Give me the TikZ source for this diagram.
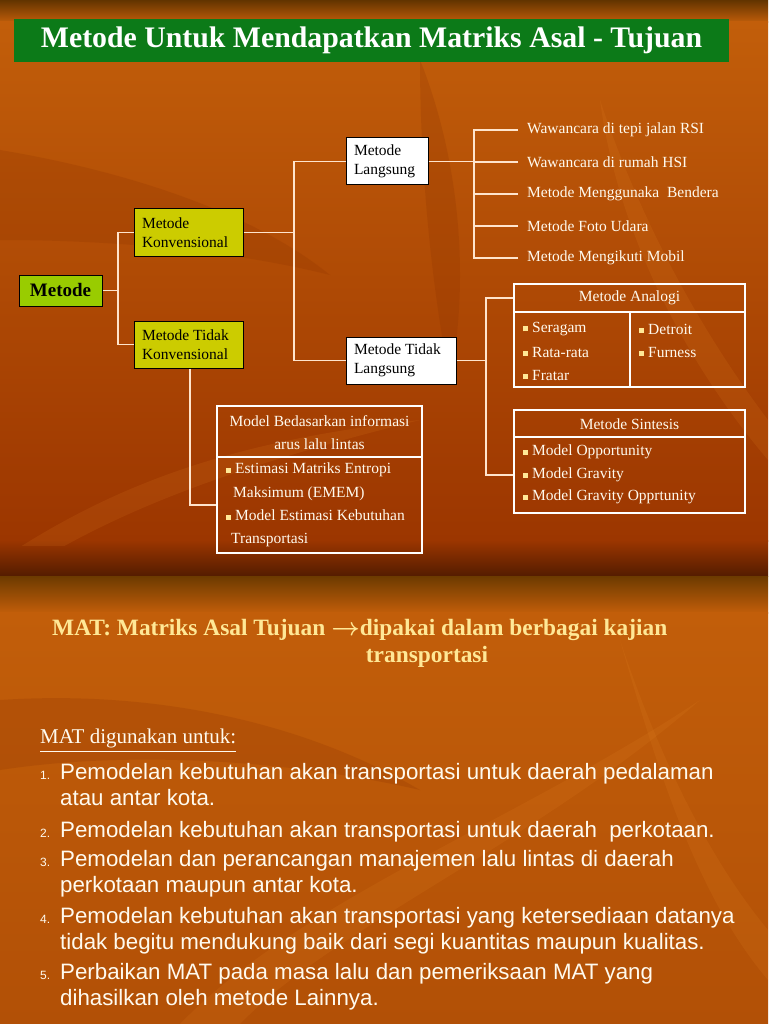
\documentclass[tikz,border=0pt]{standalone}
\usepackage{fontspec}
\usepackage{amsmath}
\setmainfont{Liberation Serif}
\setsansfont{Liberation Sans}
\usepackage{tikz}
\usetikzlibrary{positioning, calc}
\definecolor{slidetop}{RGB}{98,52,0}
\definecolor{slidemid}{RGB}{194,94,10}
\definecolor{slidelow}{RGB}{156,54,0}
\definecolor{slidedark}{RGB}{84,28,0}
\definecolor{slidenext}{RGB}{108,58,0}
\definecolor{slideend}{RGB}{178,80,6}
\definecolor{leaflight}{RGB}{235,140,40}
\definecolor{leafdark}{RGB}{140,50,0}
\definecolor{titlegreen}{RGB}{12,122,24}
\definecolor{rootgreen}{RGB}{153,204,0}
\definecolor{konvyellow}{RGB}{204,204,0}
\definecolor{linecream}{RGB}{255,228,204}
\definecolor{textcream}{RGB}{255,250,238}
\definecolor{headyellow}{RGB}{255,232,150}
\newcommand{\bul}{\textcolor{headyellow}{\rule[1pt]{5pt}{5pt}}\hspace{4pt}}

\begin{document}
\begin{tikzpicture}[x=1pt, y=-1pt, font=\fontsize{15.5}{19}\selectfont,
    link/.style={draw=linecream, line width=1.4pt},
    box/.style={draw=black, line width=1pt, inner sep=0pt, align=flush left, text=black},
    panel/.style={draw=white, line width=2.2pt, inner sep=0pt},
    panelrule/.style={draw=white, line width=1.6pt},
    leafitem/.style={anchor=west, inner xsep=9pt, inner ysep=0pt, text=textcream},
    paneltext/.style={inner sep=0pt, text=textcream, align=flush left},
    leafshade/.style={fill=leaflight, fill opacity=0.13},
    leafdeep/.style={fill=leafdark, fill opacity=0.22}]
    \useasboundingbox (0,0) rectangle (768,1024);

    % Background, two slides
    \fill[top color=slidetop, bottom color=slidemid] (0,0) rectangle (768,23);
    \fill[top color=slidemid, bottom color=slidelow] (0,22) rectangle (768,541);
    \fill[top color=slidelow, bottom color=slidedark] (0,540) rectangle (768,576);
    \fill[top color=slidenext, bottom color=slidemid] (0,576) rectangle (768,613);
    \fill[top color=slidemid, bottom color=slideend] (0,612) rectangle (768,1024);

    % Faint leaves
    \begin{scope}
      \clip (0,23) rectangle (768,545);
      \path[leafdeep] (0,150) .. controls (120,170) and (250,210) .. (330,275) .. controls (230,250) and (110,240) .. (0,240) -- cycle;
      \path[leafshade] (600,100) .. controls (620,250) and (700,380) .. (768,460) -- (768,420) .. controls (700,330) and (640,220) .. (600,100) -- cycle;
      \path[leafshade] (0,560) .. controls (120,480) and (240,440) .. (420,420) .. controls (260,460) and (140,500) .. (40,560) -- cycle;
      \path[leafdeep] (420,60) .. controls (460,160) and (470,280) .. (450,380) .. controls (430,280) and (420,160) .. (420,60) -- cycle;
    \end{scope}
    \begin{scope}
      \clip (0,612) rectangle (768,1024);
      \path[leafshade] (180,1024) .. controls (300,900) and (520,820) .. (700,700) .. controls (540,840) and (330,930) .. (240,1024) -- cycle;
      \path[leafdeep] (0,700) .. controls (150,690) and (300,720) .. (420,790) .. controls (290,760) and (130,750) .. (0,770) -- cycle;
      \path[leafshade] (620,640) .. controls (660,780) and (700,900) .. (768,980) -- (768,930) .. controls (710,860) and (660,760) .. (620,640) -- cycle;
    \end{scope}

    % Title bar
    \node[fill=titlegreen, minimum width=715pt, minimum height=43pt, text=white,
      font=\fontsize{29.8}{32}\selectfont\bfseries] (title) at (371.5,40.5)
      {Metode Untuk Mendapatkan Matriks Asal - Tujuan};

    % Tree boxes
    \node[box, fill=rootgreen, minimum width=83pt, minimum height=31pt, align=center,
      font=\fontsize{19}{22}\selectfont\bfseries] (metode) at (60.5,290.5) {Metode};
    \node[box, fill=konvyellow, text width=93pt, minimum height=47pt, inner xsep=8pt] (konv) at (188.5,232.5)
      {Metode\\Konvensional};
    \node[box, fill=konvyellow, text width=93pt, minimum height=47pt, inner xsep=8pt] (tkonv) at (188.5,344.5)
      {Metode Tidak\\Konvensional};
    \node[box, fill=white, text width=66pt, minimum height=47pt, inner xsep=8pt] (lang) at (387,161.5)
      {Metode\\Langsung};
    \node[box, fill=white, text width=94pt, minimum height=47pt, inner xsep=8pt] (tlang) at (401,360.5)
      {Metode Tidak\\Langsung};

    % Direct methods
    \node[leafitem] (rsi) at (518,130) {Wawancara di tepi jalan RSI};
    \node[leafitem] (hsi) at (518,162) {Wawancara di rumah HSI};
    \node[leafitem] (bendera) at (518,194) {Metode Menggunaka\ \ Bendera};
    \node[leafitem] (foto) at (518,226) {Metode Foto Udara};
    \node[leafitem] (mobil) at (518,258) {Metode Mengikuti Mobil};

    % Analogi panel
    \node[panel, minimum width=231pt, minimum height=103pt] (ana) at (629.5,335.5) {};
    \node[paneltext] (anahead) at (629.5,298) {Metode Analogi};
    \draw[panelrule] (ana.west |- 0,312) -- (ana.east |- 0,312);
    \draw[panelrule] (630,312) -- (ana.south -| 630,0);
    \node[paneltext, anchor=west] (seragam) at (523,329) {\bul Seragam};
    \node[paneltext, anchor=west] (rata) at (523,352) {\bul Rata-rata};
    \node[paneltext, anchor=west] (fratar) at (523,375) {\bul Fratar};
    \node[paneltext, anchor=west] (detroit) at (639,329) {\bul Detroit};
    \node[paneltext, anchor=west] (furness) at (639,352) {\bul Furness};

    % Sintesis panel
    \node[panel, minimum width=231pt, minimum height=103pt] (sin) at (629.5,461.5) {};
    \node[paneltext] (sinhead) at (629.5,424) {Metode Sintesis};
    \draw[panelrule] (sin.west |- 0,437) -- (sin.east |- 0,437);
    \node[paneltext, anchor=west] (opp) at (523,452) {\bul Model Opportunity};
    \node[paneltext, anchor=west] (grav) at (523,475) {\bul Model Gravity};
    \node[paneltext, anchor=west] (gravopp) at (523,497) {\bul Model Gravity Opprtunity};

    % Model panel
    \node[panel, minimum width=205pt, minimum height=147pt] (model) at (319.5,479.5) {};
    \node[paneltext, align=center, font=\fontsize{15.5}{23}\selectfont] (modelhead) at (319.5,432.5)
      {Model Bedasarkan informasi\\arus lalu lintas};
    \draw[panelrule] (model.west |- 0,457) -- (model.east |- 0,457);
    \node[paneltext, anchor=west, font=\fontsize{15.5}{24}\selectfont] (emem) at (226,482)
      {\bul Estimasi Matriks Entropi\\\hspace*{7pt}Maksimum (EMEM)};
    \node[paneltext, anchor=west, font=\fontsize{15.5}{23}\selectfont] (kebutuhan) at (226,528.5)
      {\bul Model Estimasi Kebutuhan\\\hspace*{5pt}Transportasi};

    % Connectors
    \coordinate (jm) at (118,290.5);
    \draw[link] (metode) -- (jm);
    \draw[link] (konv.west) -| (jm);
    \draw[link] (tkonv.west) -| (jm);
    \coordinate (jk) at (294,232.5);
    \draw[link] (konv) -- (jk);
    \draw[link] (lang.west) -| (jk);
    \draw[link] (tlang.west) -| (jk);
    \coordinate (jl) at (474,161.5);
    \draw[link] (lang) -- (jl);
    \draw[link] (rsi.west) -| (jl);
    \draw[link] (hsi.west) -| (jl);
    \draw[link] (bendera.west) -| (jl);
    \draw[link] (foto.west) -| (jl);
    \draw[link] (mobil.west) -| (jl);
    \coordinate (jt) at (486,360.5);
    \draw[link] (tlang) -- (jt);
    \draw[link] (ana.west |- anahead) -| (jt);
    \draw[link] (sin.west |- grav) -| (jt);
    \draw[link] ([xshift=1.5pt]tkonv.south) |- ($(model.west)+(0,25.5)$);

    % Second slide
    \node[anchor=west, inner sep=0pt, text=headyellow, font=\fontsize{23.4}{26}\selectfont\bfseries] (mathead) at (52,630)
      {MAT: Matriks Asal Tujuan $\boldsymbol{\rightarrow}$dipakai dalam berbagai kajian};
    \node[inner sep=0pt, text=headyellow, font=\fontsize{23.4}{26}\selectfont\bfseries] (matheadb) at (427,657)
      {transportasi};
    \node[anchor=west, inner sep=0pt, text=textcream, font=\fontsize{21}{24}\selectfont] (matuse) at (40,741)
      {\underline{MAT digunakan untuk:}};

    \begin{scope}[font=\sffamily\fontsize{22.3}{26}\selectfont, text=textcream]
      \node[anchor=north west, inner sep=0pt, align=flush left] (item1) at (60,763)
        {Pemodelan kebutuhan akan transportasi untuk daerah pedalaman\\atau antar kota.};
      \node[anchor=north west, inner sep=0pt, align=flush left] (item2) at (60,821)
        {Pemodelan kebutuhan akan transportasi untuk daerah\ \ perkotaan.};
      \node[anchor=north west, inner sep=0pt, align=flush left] (item3) at (60,850)
        {Pemodelan dan perancangan manajemen lalu lintas di daerah\\perkotaan maupun antar kota.};
      \node[anchor=north west, inner sep=0pt, align=flush left] (item4) at (60,907)
        {Pemodelan kebutuhan akan transportasi yang ketersediaan datanya\\tidak begitu mendukung baik dari segi kuantitas maupun kualitas.};
      \node[anchor=north west, inner sep=0pt, align=flush left] (item5) at (60,963)
        {Perbaikan MAT pada masa lalu dan pemeriksaan MAT yang\\dihasilkan oleh metode Lainnya.};
    \end{scope}
    \begin{scope}[font=\sffamily\fontsize{12}{14}\selectfont, text=textcream]
      \node[anchor=base west, inner sep=0pt] (n1) at (40,779) {1.};
      \node[anchor=base west, inner sep=0pt] (n2) at (40,837) {2.};
      \node[anchor=base west, inner sep=0pt] (n3) at (40,866) {3.};
      \node[anchor=base west, inner sep=0pt] (n4) at (40,923) {4.};
      \node[anchor=base west, inner sep=0pt] (n5) at (40,979) {5.};
    \end{scope}
  \end{tikzpicture}
\end{document}
